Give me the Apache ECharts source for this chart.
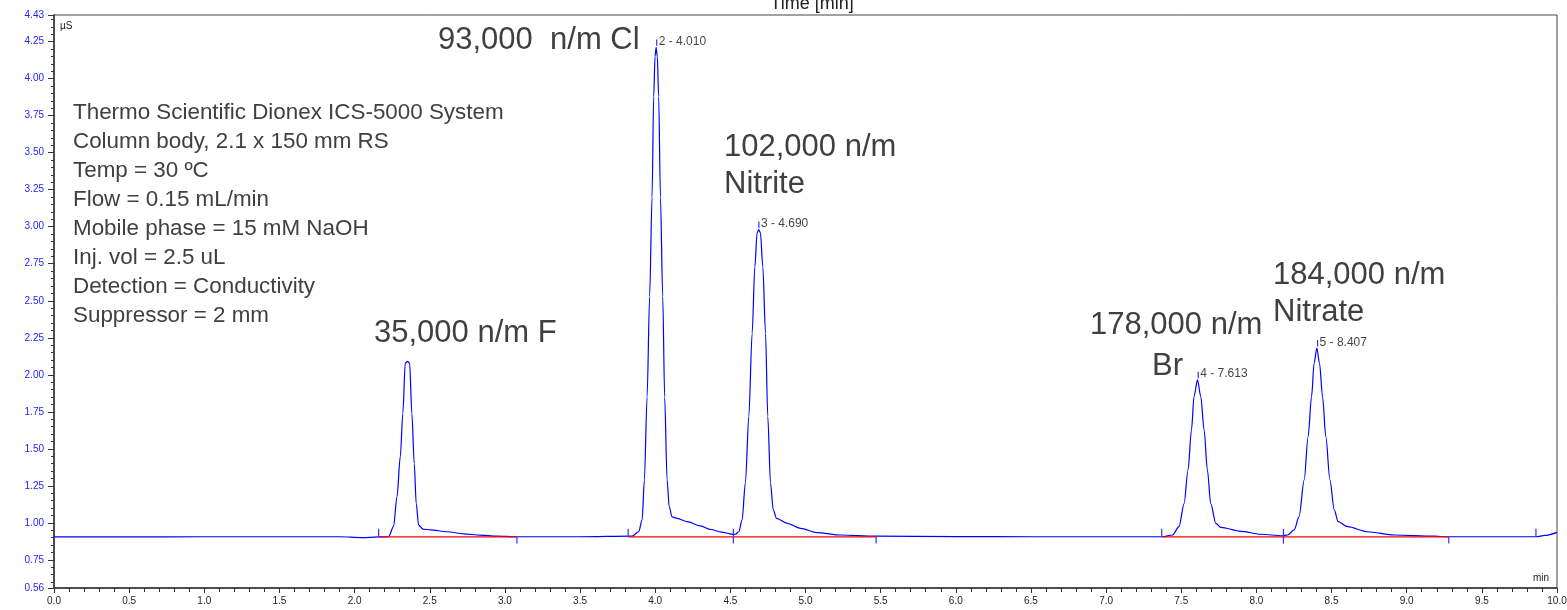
<!DOCTYPE html>
<html>
<head>
<meta charset="utf-8">
<title>Chromatogram</title>
<script src="https://cdn.jsdelivr.net/npm/echarts@6/dist/echarts.min.js"></script>
<style>
  html, body { margin: 0; padding: 0; background: #fff; }
  #chart { width: 1567px; height: 610px; }
</style>
</head>
<body>
<div id="chart"></div>
<script>
// trace, [time (min), signal (µS)]
const baselineStart = [[0.0, 0.905], [0.5, 0.905], [1.0, 0.906], [1.5, 0.906], [1.9, 0.906], [2.05, 0.900], [2.16, 0.905], [2.226, 0.906]];
const peakF = [[2.259, 0.974], [2.282, 1.177], [2.304, 1.447], [2.321, 1.74], [2.337, 2.08], [2.352, 2.09], [2.366, 2.08],
  [2.381, 1.74], [2.397, 1.40], [2.41, 1.13], [2.426, 0.985], [2.455, 0.957], [2.503, 0.953], [2.614, 0.94],
  [2.725, 0.926], [2.836, 0.917], [2.947, 0.91], [3.08, 0.906], [3.5, 0.906]];
const peakCl = [[3.846, 0.91], [3.89, 0.94], [3.913, 1.02], [3.928, 1.29], [3.946, 1.85], [3.963, 2.53], [3.979, 3.20],
  [3.99, 3.88], [3.999, 4.15], [4.006, 4.21], [4.014, 4.15], [4.023, 3.88], [4.035, 3.20], [4.05, 2.53], [4.063, 1.85],
  [4.079, 1.29], [4.093, 1.11], [4.112, 1.04], [4.146, 1.03], [4.22, 1.006], [4.30, 0.979], [4.37, 0.955],
  [4.44, 0.938], [4.52, 0.922]];
const peakNitrite = [[4.534, 0.923], [4.556, 0.94], [4.578, 1.02], [4.60, 1.27], [4.623, 1.72], [4.645, 2.28], [4.663, 2.73],
  [4.678, 2.96], [4.689, 2.98], [4.70, 2.96], [4.716, 2.73], [4.734, 2.28], [4.749, 1.72], [4.767, 1.27], [4.785, 1.09],
  [4.807, 1.03], [4.878, 0.997], [4.967, 0.963], [5.078, 0.934], [5.233, 0.918], [5.466, 0.91], [6.0, 0.907],
  [6.5, 0.906], [7.0, 0.906]];
const peakBr = [[7.375, 0.906], [7.441, 0.918], [7.485, 0.974], [7.519, 1.13], [7.545, 1.357], [7.568, 1.627], [7.585, 1.853],
  [7.608, 1.965], [7.63, 1.853], [7.652, 1.627], [7.674, 1.357], [7.696, 1.13], [7.73, 0.997], [7.763, 0.97],
  [7.896, 0.943], [8.029, 0.923], [8.173, 0.913]];
const peakNitrate = [[8.207, 0.918], [8.251, 0.952], [8.284, 1.042], [8.318, 1.29], [8.344, 1.582], [8.367, 1.853],
  [8.384, 2.078], [8.402, 2.18], [8.42, 2.078], [8.44, 1.853], [8.462, 1.582], [8.489, 1.29], [8.518, 1.087],
  [8.544, 1.008], [8.607, 0.974], [8.74, 0.94], [8.917, 0.918], [9.183, 0.91]];
const tailEnd = [[9.28, 0.906], [9.6, 0.906], [9.86, 0.906], [9.92, 0.915], [10.0, 0.936]];

// integration: peak start / end marks and red baselines
const peakStarts = [2.16, 3.82, 4.52, 7.37, 8.18, 9.86];
const peakEnds = [3.08, 4.52, 5.47, 8.18, 9.28];
const integrationFrom = [2.16, 3.82, 4.52, 7.37, 8.18];
const integrationTo = [3.08, 4.52, 5.47, 8.18, 9.28];
const baseLevel = 0.905;

// labelled peaks
const peakNumbers = [2, 3, 4, 5];
const peakTimes = [4.010, 4.690, 7.613, 8.407];
const peakHeights = [4.21, 2.98, 1.965, 2.18];

// axis ticks
const yTickLabels = [0.56, 0.75, 1.00, 1.25, 1.50, 1.75, 2.00, 2.25, 2.50, 2.75, 3.00, 3.25, 3.50, 3.75, 4.00, 4.25, 4.43];
const yMinorTicks = [];
for (let v = 0.60; v < 4.43; v += 0.05) yMinorTicks.push(Math.round(v * 100) / 100);

const infoLines = [
  "Thermo Scientific Dionex ICS-5000 System",
  "Column body, 2.1 x 150 mm RS",
  "Temp = 30 ºC",
  "Flow = 0.15 mL/min",
  "Mobile phase = 15 mM NaOH",
  "Inj. vol = 2.5 uL",
  "Detection = Conductivity",
  "Suppressor = 2 mm",
];

const signal = [].concat(baselineStart, peakF, peakCl, peakNitrite, peakBr, peakNitrate, tailEnd);

const FONT = '"Liberation Sans", Arial, sans-serif';
const GREY = "#404040";

// vertical marks: [time, from, to]
const markData = [];
peakStarts.forEach((t) => markData.push([t, baseLevel, baseLevel + 0.055]));
peakEnds.forEach((t) => markData.push([t, baseLevel, baseLevel - 0.045]));
peakTimes.forEach((t, i) => markData.push([t, peakHeights[i] + 0.012, peakHeights[i] + 0.055]));

// red baselines: [from, to, level]
const redData = integrationFrom.map((t, i) => [t, integrationTo[i], baseLevel]);

const segment = (p1, p2, color) => ({
  type: "line",
  shape: { x1: p1[0], y1: p1[1], x2: p2[0], y2: p2[1] },
  style: { stroke: color, lineWidth: 1.2 },
});

const bigLabel = (text, x, y) => ({
  type: "text", x: x, y: y,
  style: { text: text, fill: GREY, fontSize: 31, fontFamily: FONT, verticalAlign: "middle" },
});

const chart = echarts.init(document.getElementById("chart"));

const option = {
  animation: false,
  grid: {
    left: 54, right: 10, top: 15, bottom: 22,
    show: true, borderColor: "#444", borderWidth: 1,
    outerBoundsMode: "none",
  },
  xAxis: {
    type: "value", min: 0, max: 10, interval: 0.5,
    axisLine: { onZero: false, lineStyle: { color: "#333", width: 1.5 } },
    axisTick: { length: 5, lineStyle: { color: "#333" } },
    minorTick: { show: true, splitNumber: 5, length: 4, lineStyle: { color: "#333" } },
    splitLine: { show: false },
    axisLabel: {
      margin: 8, color: "#222", fontSize: 10, fontFamily: FONT,
      formatter: (v) => v.toFixed(1),
    },
  },
  yAxis: [
    {
      type: "value", min: 0.56, max: 4.43,
      axisLine: { show: true, onZero: false, lineStyle: { color: "#333", width: 1.5 } },
      axisTick: { show: true, length: 6, customValues: yTickLabels, lineStyle: { color: "#333" } },
      splitLine: { show: false },
      axisLabel: {
        margin: 10, color: "#2222ff", fontSize: 10, fontFamily: FONT,
        customValues: yTickLabels,
        formatter: (v) => v.toFixed(2),
      },
    },
    {
      type: "value", min: 0.56, max: 4.43, position: "left",
      axisLine: { show: false, onZero: false },
      axisTick: { show: true, length: 3, customValues: yMinorTicks, lineStyle: { color: "#333" } },
      axisLabel: { show: false },
      splitLine: { show: false },
    },
  ],
  series: [
    {
      name: "signal", type: "line", data: signal,
      showSymbol: false, smooth: 0.3, smoothMonotone: "x",
      lineStyle: { color: "#0000ff", width: 1.2 }, z: 3,
    },
    {
      name: "baseline", type: "custom", data: redData, z: 4,
      renderItem: (params, api) =>
        segment(api.coord([api.value(0), api.value(2)]), api.coord([api.value(1), api.value(2)]), "#ff0000"),
    },
    {
      name: "marks", type: "custom", data: markData, z: 5,
      renderItem: (params, api) =>
        segment(api.coord([api.value(0), api.value(1)]), api.coord([api.value(0), api.value(2)]), "#3030ff"),
    },
    {
      name: "peakLabels", type: "scatter", symbolSize: 0,
      data: peakTimes.map((t, i) => ({ value: [t, peakHeights[i] + 0.04], name: peakNumbers[i] + " - " + t.toFixed(3) })),
      label: {
        show: true, position: "right", distance: 2,
        formatter: (p) => p.name, color: "#111", fontSize: 12, fontFamily: FONT,
      },
      z: 6,
    },
  ],
  graphic: [
    {
      type: "text", x: 812, y: 13,
      style: { text: "Time [min]", fill: "#222", fontSize: 18, fontFamily: FONT, align: "center", verticalAlign: "bottom" },
    },
    { type: "text", x: 60, y: 26, style: { text: "µS", fill: "#222", fontSize: 10, fontFamily: FONT, verticalAlign: "middle" } },
    { type: "text", x: 1533, y: 578, style: { text: "min", fill: "#222", fontSize: 10, fontFamily: FONT, verticalAlign: "middle" } },
    {
      type: "text", x: 73, y: 98,
      style: { text: infoLines.join("\n"), fill: GREY, fontSize: 22.4, lineHeight: 29, fontFamily: FONT },
    },
    bigLabel("35,000 n/m F", 374, 333),
    bigLabel("93,000  n/m Cl", 438, 40),
    bigLabel("102,000 n/m", 724, 147),
    bigLabel("Nitrite", 724, 184),
    bigLabel("178,000 n/m", 1090, 325),
    bigLabel("Br", 1152, 366),
    bigLabel("184,000 n/m", 1273, 275),
    bigLabel("Nitrate", 1273, 312),
  ],
};

chart.setOption(option);
</script>
</body>
</html>
